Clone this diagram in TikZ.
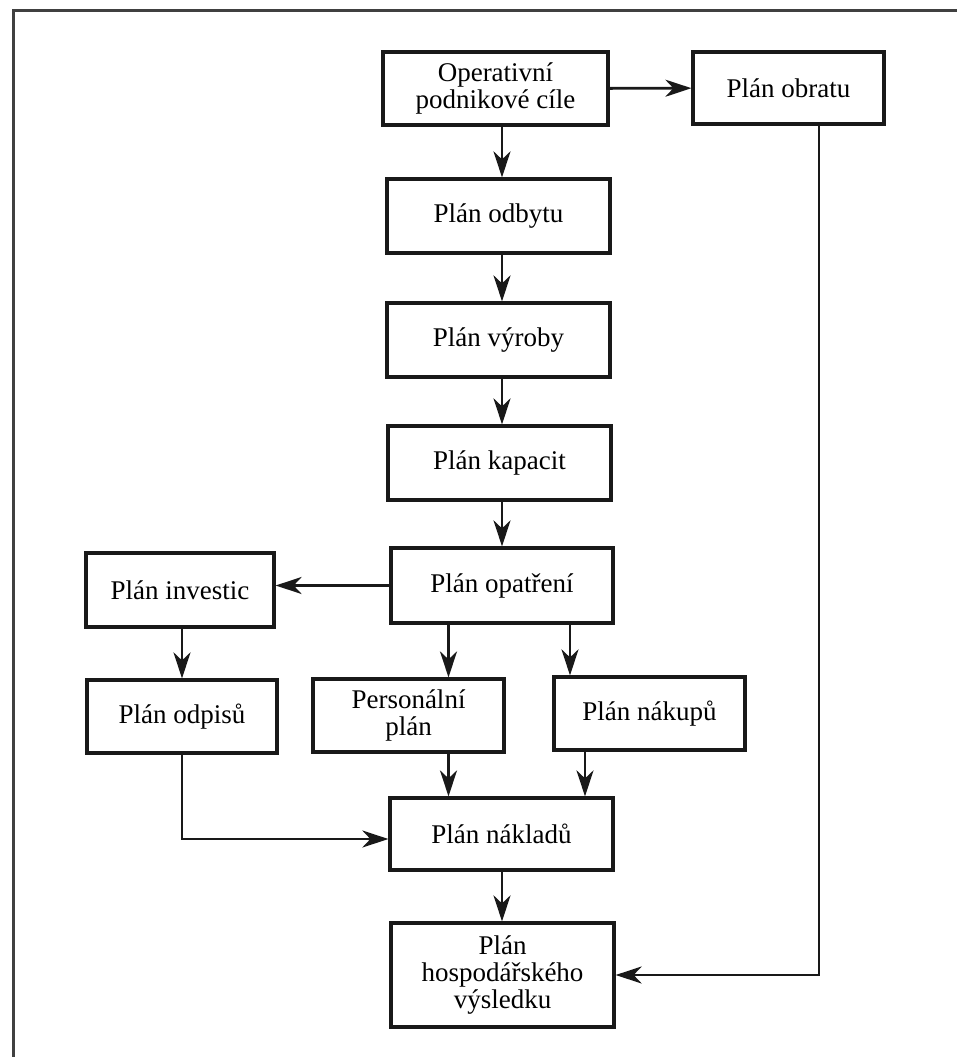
\documentclass[tikz,border=0pt]{standalone}
\usepackage{fontspec}
\setmainfont{Liberation Serif}
\usetikzlibrary{arrows.meta}
\begin{document}
\begin{tikzpicture}[x=1pt,y=-1pt,
  plan/.style={draw=black!90, line width=3.2pt, align=center, inner sep=0pt,
    font=\fontsize{27}{27}\selectfont, text=black},
  arr/.style={draw=black!90, line width=2.9pt,
    -{Stealth[length=26pt,width=17pt,inset=8pt]}},
  frameline/.style={draw=black!75, line width=3pt}]
\useasboundingbox (0,0) rectangle (957,1057);
\fill[white] (0,0) rectangle (957,1057);

% page frame
\draw[frameline] (957,11) -- (13,11) -- (13,1057);

% boxes (centre, size)
\node[plan, minimum width=225pt, minimum height=73pt] (op)  at (495.5,88.5) {Operativní\\podnikové cíle};
\node[plan, minimum width=191pt, minimum height=72pt] (obr) at (788.5,88) {Plán obratu};
\node[plan, minimum width=223pt, minimum height=74pt] (odb) at (498.5,216) {Plán odbytu};
\node[plan, minimum width=223pt, minimum height=74pt] (vyr) at (498.5,340) {Plán výroby};
\node[plan, minimum width=223pt, minimum height=74pt] (kap) at (499.5,463) {Plán kapacit};
\node[plan, minimum width=222pt, minimum height=75pt] (opa) at (502,585.5) {Plán opatření};
\node[plan, minimum width=188pt, minimum height=74pt] (inv) at (180,590) {Plán investic};
\node[plan, minimum width=190pt, minimum height=73pt] (odp) at (182,716.5) {Plán odpisů};
\node[plan, minimum width=191pt, minimum height=73pt] (per) at (408.5,715.5) {Personální\\plán};
\node[plan, minimum width=191pt, minimum height=73pt] (nak) at (649.5,713.5) {Plán nákupů};
\node[plan, minimum width=223pt, minimum height=72pt] (nkl) at (501.5,834) {Plán nákladů};
\node[plan, minimum width=223pt, minimum height=104pt] (hos) at (502.5,975) {Plán\\hospodářského\\výsledku};

% guide positions for the connectors
\coordinate (colx) at (502,0);
\coordinate (rx) at (819,0);
\coordinate (px) at (448.5,0);
\coordinate (nx1) at (570,0);
\coordinate (nx2) at (585,0);

% connectors
\draw[arr] (op) -- (obr);
\draw[arr] (op.south -| colx) -- (odb.north -| colx);
\draw[arr] (odb.south -| colx) -- (vyr.north -| colx);
\draw[arr] (vyr.south -| colx) -- (kap.north -| colx);
\draw[arr] (kap.south -| colx) -- (opa.north -| colx);
\draw[arr] (opa.west) -- (inv.east |- opa.west);
\draw[arr] (inv.south -| odp.south) -- (odp.north);
\draw[arr] (opa.south -| px) -- (per.north -| px);
\draw[arr] (opa.south -| nx1) -- (nak.north -| nx1);
\draw[arr] (per.south -| px) -- (nkl.north -| px);
\draw[arr] (nak.south -| nx2) -- (nkl.north -| nx2);
\draw[arr] (odp.south) |- ([yshift=-5pt]nkl.west);
\draw[arr] (nkl.south -| colx) -- (hos.north -| colx);
\draw[arr] (obr.south -| rx) |- (hos.east);
\end{tikzpicture}
\end{document}
